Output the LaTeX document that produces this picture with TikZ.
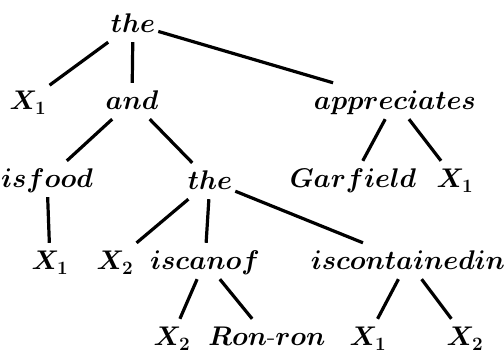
\RequirePackage{fix-cm}
\documentclass[tikz,border=0pt]{standalone}
\begin{document}
\begin{tikzpicture}[x=1pt,y=-1pt,
  lbl/.style={font=\fontsize{27}{30}\selectfont\boldmath, text height=24pt, text depth=6pt, inner sep=3pt, anchor=base},
  edge/.style={line width=3.2pt}]
\useasboundingbox (0,0) rectangle (504,355);
% row 1
\node[lbl] (the1) at (133,33) {$the$};
% row 2
\node[lbl] (xa) at (28,110) {$X_1$};
\node[lbl] (and) at (132,110) {$and$};
\node[lbl] (appr) at (395,110) {$appreciates$};
% row 3
\node[lbl] (isfood) at (47,188) {$isfood$};
\node[lbl] (the2) at (210,190) {$the$};
\node[lbl] (garf) at (353,188) {$Garfield$};
\node[lbl] (xb) at (455,188) {$X_1$};
% row 4
\node[lbl] (xc) at (50,270) {$X_1$};
\node[lbl] (xd) at (115,270) {$X_2$};
\node[lbl] (iscanof) at (205,270) {$iscanof$};
\node[lbl] (iscont) at (408,270) {$iscontainedin$};
% row 5
\node[lbl] (xe) at (172,346) {$X_2$};
\node[lbl] (ron) at (267,346) {$Ron\mbox{-}ron$};
\node[lbl] (xf) at (368,346) {$X_1$};
\node[lbl] (xg) at (465,346) {$X_2$};
% edges
\draw[edge] (the1) -- (xa);
\draw[edge] (the1) -- (and);
\draw[edge] (the1) -- (appr);
\draw[edge] (and) -- (isfood);
\draw[edge] (and) -- (the2);
\draw[edge] (appr) -- (garf);
\draw[edge] (appr) -- (xb);
\draw[edge] (isfood) -- (xc);
\draw[edge] (the2) -- (xd);
\draw[edge] (the2) -- (iscanof);
\draw[edge] (the2) -- (iscont);
\draw[edge] (iscanof) -- (xe);
\draw[edge] (iscanof) -- (ron);
\draw[edge] (iscont) -- (xf);
\draw[edge] (iscont) -- (xg);
\end{tikzpicture}
\end{document}
